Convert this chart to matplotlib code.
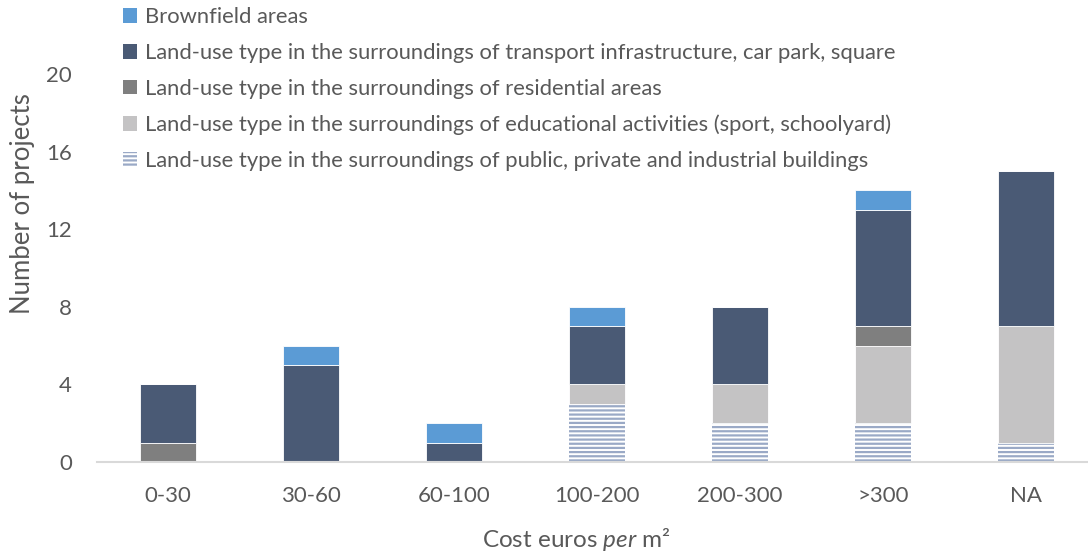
import numpy as np
import matplotlib
matplotlib.use("Agg")
import matplotlib.pyplot as plt
from matplotlib.patches import Patch

plt.rcParams['font.family'] = ['Lato', 'DejaVu Sans']
plt.rcParams['mathtext.fontset'] = 'custom'
plt.rcParams['mathtext.rm'] = 'Lato'
plt.rcParams['mathtext.it'] = 'Lato:italic'
plt.rcParams['hatch.linewidth'] = 1.6

# 비용 구간
categories = ['0-30', '30-60', '60-100', '100-200', '200-300', '>300', 'NA']

# 시리즈 (아래에서 위로 쌓는 순서)
buildings = [0, 0, 0, 3, 2, 2, 1]
educational = [0, 0, 0, 1, 2, 4, 6]
residential = [1, 0, 0, 0, 0, 1, 0]
transport = [3, 5, 1, 3, 4, 6, 8]
brownfield = [0, 1, 1, 1, 0, 1, 0]

labels = {
    'brown': 'Brownfield areas',
    'trans': 'Land-use type in the surroundings of transport infrastructure, car park, square',
    'res': 'Land-use type in the surroundings of residential areas',
    'edu': 'Land-use type in the surroundings of educational activities (sport, schoolyard)',
    'bld': 'Land-use type in the surroundings of public, private and industrial buildings',
}
yticks = [0, 4, 8, 12, 16, 20]

textColor = '#595959'
colBrown = '#5B9BD5'
colTrans = '#4A5A75'
colRes = '#7F7F7F'
colEdu = '#C4C3C4'
colHatch = '#9AA9C6'

fig = plt.figure(figsize=(10.88, 5.56), dpi=100)
ax = fig.add_axes([97 / 1088, (556 - 462) / 556, (1088 - 97) / 1088, (462 - 74) / 556])

x = np.arange(len(categories))
w = 0.39
bottom = np.zeros(len(categories))

ax.bar(x, buildings, w, bottom=bottom, color='white', edgecolor=colHatch,
       hatch='----', linewidth=0)
bottom += np.array(buildings)
ax.bar(x, educational, w, bottom=bottom, color=colEdu, edgecolor='white', linewidth=0.6)
bottom += np.array(educational)
ax.bar(x, residential, w, bottom=bottom, color=colRes, edgecolor='white', linewidth=0.6)
bottom += np.array(residential)
ax.bar(x, transport, w, bottom=bottom, color=colTrans, edgecolor='white', linewidth=0.6)
bottom += np.array(transport)
ax.bar(x, brownfield, w, bottom=bottom, color=colBrown, edgecolor='white', linewidth=0.6)

ax.set_xlim(-0.4965, 6.434)
ax.set_ylim(0, 20)
ax.set_yticks(yticks)
ax.set_xticks(x)
ax.set_xticklabels(categories)
ax.tick_params(axis='both', length=0, labelsize=16, colors=textColor)
ax.tick_params(axis='x', pad=17.5)
ax.tick_params(axis='y', pad=18)

for s in ['top', 'right', 'left']:
    ax.spines[s].set_visible(False)
ax.spines['bottom'].set_color('#D9D9D9')
ax.spines['bottom'].set_linewidth(1.5)

ax.set_ylabel('Number of projects', fontsize=18.5, color=textColor)
ax.yaxis.set_label_coords(-0.0625, 0.667)
ax.set_xlabel(r'Cost euros $\mathit{per}$ m²', fontsize=17.5, color=textColor)
ax.xaxis.set_label_coords(0.484, -0.165)

handles = [
    Patch(facecolor=colBrown, label=labels['brown']),
    Patch(facecolor=colTrans, label=labels['trans']),
    Patch(facecolor=colRes, label=labels['res']),
    Patch(facecolor=colEdu, label=labels['edu']),
    Patch(facecolor='white', edgecolor=colHatch, hatch='----', linewidth=0, label=labels['bld']),
]
leg = ax.legend(handles=handles, loc='upper left', bbox_to_anchor=(0.017, 1.195),
                frameon=False, fontsize=15.8, handlelength=0.65, handleheight=0.65,
                handletextpad=0.37, labelspacing=0.72, borderaxespad=0)
for t in leg.get_texts():
    t.set_color(textColor)

plt.savefig('out.png', dpi=100)
